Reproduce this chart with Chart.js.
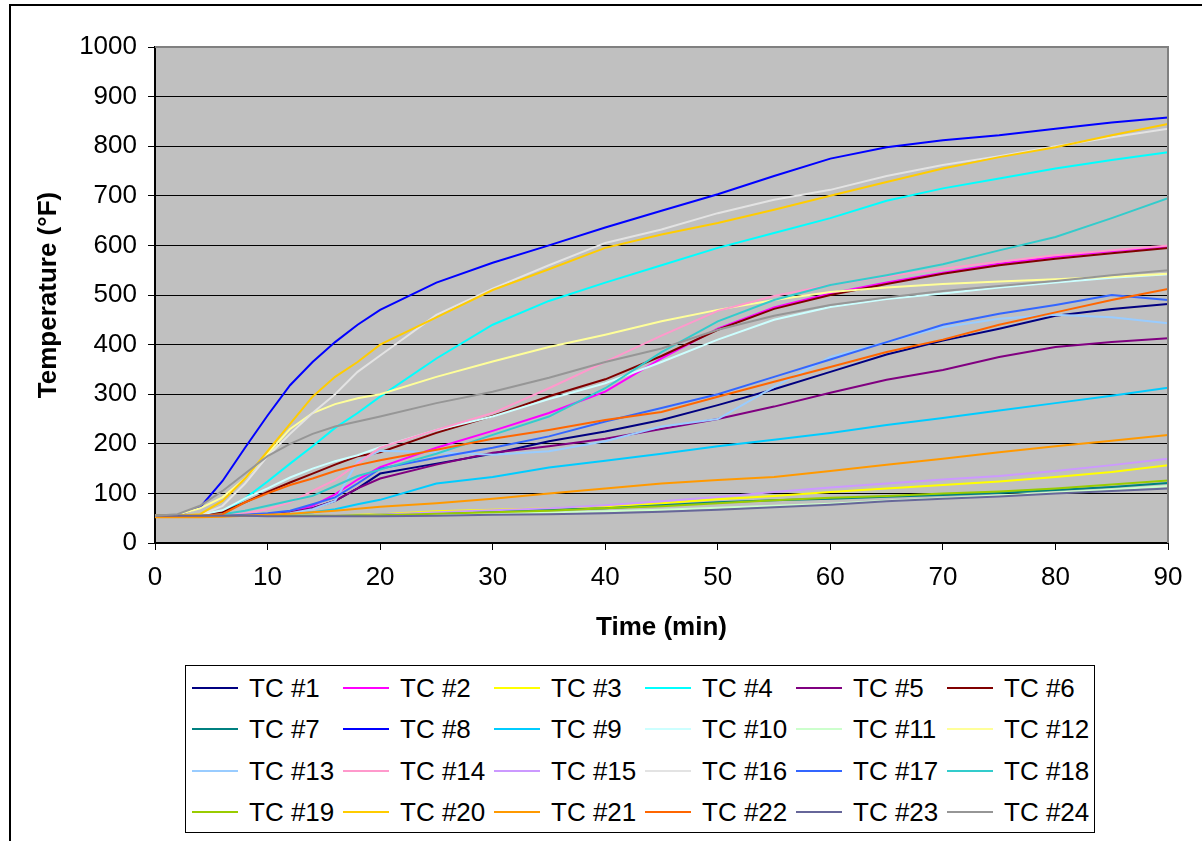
<!DOCTYPE html>
<html>
<head>
<meta charset="utf-8">
<script src="https://cdn.jsdelivr.net/npm/chart.js@4.4.0/dist/chart.umd.min.js"></script>
<style>
html,body{margin:0;padding:0;background:#fff;width:1202px;height:841px;overflow:hidden;}
#frame{position:absolute;left:9px;top:4px;width:1400px;height:1000px;border:2px solid #000;box-sizing:border-box;}
#wrap{position:absolute;left:0;top:0;width:1202px;height:841px;}
#legend{position:absolute;left:185px;top:665px;width:910px;height:168px;border:1px solid #000;box-sizing:border-box;background:#fff;font-family:'Liberation Sans',Arial,sans-serif;font-size:26px;color:#000;}
.li{position:absolute;height:32px;line-height:32px;white-space:nowrap;}
.li .sw{position:absolute;left:0;top:15px;width:46px;height:2px;}
.li .tx{position:absolute;left:57px;top:0;}
</style>
</head>
<body>
<div id="frame"></div>
<div id="wrap"><canvas id="c" width="1202" height="841"></canvas></div>
<div id="legend"></div>
<script>
const times = [0,2,4,6,8,10,12,14,16,18,20,25,30,35,40,45,50,55,60,65,70,75,80,85,90];

const tc1  = [55,55,55,55,56,58,62,70,85,110,140,160,180,205,225,248,278,310,345,380,408,432,458,472,482];
const tc2  = [55,55,55,55,56,58,62,75,98,128,153,192,226,262,305,372,432,475,503,525,545,563,577,588,598];
const tc3  = [55,55,55,55,55,55,55,55,56,57,58,64,67,70,73,80,88,95,103,110,117,124,133,143,157];
const tc4  = [55,55,55,62,90,124,160,195,232,262,295,372,440,488,525,560,595,625,655,690,715,735,755,772,788];
const tc5  = [55,55,55,55,56,58,62,70,85,110,130,158,182,195,210,230,250,275,303,329,349,375,395,405,413];
const tc6  = [55,55,56,62,82,103,122,140,158,175,183,222,256,296,330,377,430,472,500,522,543,560,573,584,595];
const tc7  = [55,55,55,55,55,55,55,55,55,56,57,60,64,67,70,76,82,86,89,93,97,101,107,113,121];
const tc8  = [55,56,72,125,192,257,318,365,405,440,470,525,565,600,636,670,703,740,775,798,812,822,835,848,858];
const tc9  = [55,55,55,55,55,56,58,62,68,78,87,120,133,152,166,180,195,208,222,238,252,267,282,297,313];
const tc10 = [55,55,57,66,90,110,132,150,165,177,193,228,255,290,322,365,410,450,476,492,503,515,525,535,542];
const tc11 = [55,55,55,55,55,55,55,55,55,55,55,57,59,61,64,67,71,75,79,85,90,96,102,108,115];
const tc12 = [55,57,70,92,130,180,230,262,280,292,300,335,366,395,420,447,470,490,506,515,522,527,532,537,543];
const tc13 = [55,55,55,55,55,56,60,68,85,165,186,183,178,185,205,235,250,315,375,405,435,452,460,455,443];
const tc14 = [55,55,55,56,60,68,82,105,127,160,192,228,262,312,365,418,468,498,520,538,553,567,580,590,600];
const tc15 = [55,55,55,55,55,55,55,55,56,56,57,62,66,70,76,84,93,103,112,120,128,135,145,157,170];
const tc16 = [55,55,56,75,120,175,220,262,300,345,378,460,513,560,605,632,665,692,712,740,762,780,800,818,835];
const tc17 = [55,55,55,55,57,60,65,78,92,120,150,172,192,215,245,272,300,335,370,405,440,462,480,500,490];
const tc18 = [55,55,55,58,65,75,85,95,115,135,148,180,218,255,312,385,447,490,520,540,562,590,617,655,695];
const tc19 = [55,55,55,55,55,55,55,55,55,56,56,59,62,65,70,74,80,86,91,95,100,104,110,118,126];
const tc20 = [55,55,58,85,130,185,240,295,335,365,400,455,510,552,595,622,645,672,700,728,755,778,798,822,845];
const tc21 = [52,52,52,53,55,57,59,62,65,69,73,80,89,100,110,120,127,133,145,158,170,183,195,206,218];
const tc22 = [55,55,55,58,82,100,117,130,145,157,167,188,210,228,248,264,295,325,355,385,410,440,465,490,512];
const tc23 = [55,55,55,55,55,54,54,54,54,54,54,55,57,58,60,63,67,72,77,84,89,94,100,105,110];
const tc24 = [55,58,75,105,140,175,200,220,235,245,255,282,305,333,365,392,430,458,480,495,508,518,528,540,550];

const seriesNames = ['TC #1','TC #2','TC #3','TC #4','TC #5','TC #6','TC #7','TC #8','TC #9','TC #10','TC #11','TC #12',
  'TC #13','TC #14','TC #15','TC #16','TC #17','TC #18','TC #19','TC #20','TC #21','TC #22','TC #23','TC #24'];
const seriesColors = ['#000080','#FF00FF','#FFFF00','#00FFFF','#800080','#800000','#008080','#0000FF','#00CCFF','#CCFFFF','#CCFFCC','#FFFF99',
  '#99CCFF','#FF99CC','#CC99FF','#E3E3E3','#3366FF','#33CCCC','#99CC00','#FFCC00','#FF9900','#FF6600','#666699','#969696'];
const allSeries = [tc1,tc2,tc3,tc4,tc5,tc6,tc7,tc8,tc9,tc10,tc11,tc12,tc13,tc14,tc15,tc16,tc17,tc18,tc19,tc20,tc21,tc22,tc23,tc24];

const xTicks = [0,10,20,30,40,50,60,70,80,90];
const yTicks = [0,100,200,300,400,500,600,700,800,900,1000];

const FONT = "'Liberation Sans', Arial, sans-serif";

const datasets = allSeries.map((vals, i) => ({
  label: seriesNames[i],
  data: times.map((t, j) => ({x: t, y: vals[j]})),
  borderColor: seriesColors[i],
  backgroundColor: seriesColors[i],
  borderWidth: 2,
  pointRadius: 0,
  tension: 0,
  fill: false,
  order: allSeries.length - i
}));

const plotBg = {
  id: 'plotBg',
  beforeDraw(chart) {
    const {ctx, chartArea: a} = chart;
    ctx.save();
    ctx.fillStyle = '#C0C0C0';
    ctx.fillRect(a.left, a.top, a.right - a.left, a.bottom - a.top);
    ctx.restore();
  },
  afterDraw(chart) {
    const {ctx, chartArea: a} = chart;
    ctx.save();
    ctx.strokeStyle = '#808080';
    ctx.lineWidth = 2;
    ctx.beginPath();
    ctx.moveTo(a.left, a.top);
    ctx.lineTo(a.right, a.top);
    ctx.lineTo(a.right, a.bottom);
    ctx.stroke();
    ctx.restore();
  }
};

const chart = new Chart(document.getElementById('c'), {
  type: 'line',
  data: {datasets},
  options: {
    responsive: false,
    animation: false,
    layout: {padding: {left: 0, top: 47, right: 34, bottom: 198}},
    plugins: {legend: {display: false}, tooltip: {enabled: false}},
    scales: {
      x: {
        type: 'linear', min: 0, max: 90,
        afterBuildTicks: s => { s.ticks = xTicks.map(v => ({value: v})); },
        afterFit: s => { s.height = 100; },
        ticks: {font: {family: FONT, size: 26}, color: '#000', padding: 12, callback: v => String(v)},
        grid: {drawOnChartArea: false, drawTicks: true, tickLength: 7, tickColor: '#000', tickWidth: 1},
        border: {display: true, color: '#000', width: 2},
        title: {display: true, text: 'Time (min)', color: '#000', font: {family: FONT, size: 26, weight: 'bold'}, padding: {top: 0, bottom: 0}}
      },
      y: {
        type: 'linear', min: 0, max: 1000,
        afterBuildTicks: s => { s.ticks = yTicks.map(v => ({value: v})); },
        afterFit: s => { s.width = 155; },
        ticks: {font: {family: FONT, size: 26}, color: '#000', padding: 11, callback: v => String(v)},
        grid: {color: '#000', lineWidth: 1, drawTicks: true, tickLength: 7, tickColor: '#000'},
        border: {display: true, color: '#000', width: 2},
        title: {display: true, text: 'Temperature (°F)', color: '#000', font: {family: FONT, size: 26, weight: 'bold'}, padding: {top: 33, bottom: 0}}
      }
    }
  },
  plugins: [plotBg]
});

// HTML legend in a 6-column grid, built from the chart's datasets
const legendEl = document.getElementById('legend');
chart.data.datasets.forEach((ds, i) => {
  const col = i % 6, row = Math.floor(i / 6);
  const item = document.createElement('div');
  item.className = 'li';
  item.style.left = (6 + col * 151) + 'px';
  item.style.top = (22 + row * 41.3 - 16) + 'px';
  const sw = document.createElement('span');
  sw.className = 'sw';
  sw.style.background = ds.borderColor;
  const tx = document.createElement('span');
  tx.className = 'tx';
  tx.textContent = ds.label;
  item.appendChild(sw);
  item.appendChild(tx);
  legendEl.appendChild(item);
});
</script>
</body>
</html>
